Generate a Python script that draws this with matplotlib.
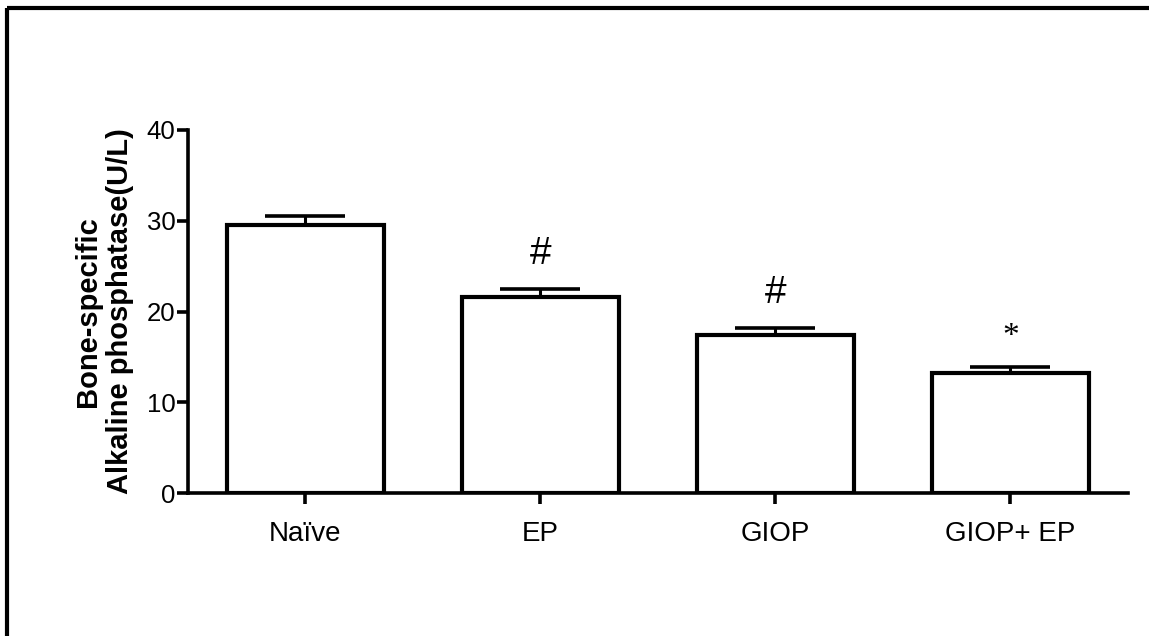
import matplotlib
matplotlib.use("Agg")
import matplotlib.pyplot as plt
from matplotlib.lines import Line2D

plt.rcParams['font.family'] = ['Liberation Sans', 'DejaVu Sans']

groups = ["Naïve", "EP", "GIOP", "GIOP+ EP"]
means = [29.5, 21.6, 17.4, 13.2]
sems = [1.0, 0.9, 0.8, 0.7]
marks = ["", "#", "#", "*"]
yticks = [0, 10, 20, 30, 40]

fig = plt.figure(figsize=(11.49, 6.36), dpi=100)
ax = fig.add_axes([0.1636, 0.2248, 0.818, 0.5708])

x = list(range(len(groups)))
ax.bar(x, means, width=0.668, color="white", edgecolor="black",
       linewidth=3.0, zorder=2)
ax.errorbar(x, means, yerr=[[0] * len(sems), sems], fmt="none",
            ecolor="black", elinewidth=2.2, capsize=29, capthick=2.6,
            zorder=1)

# significance marks above the error caps
mark_style = {
    "#": dict(fontsize=28, offset=25, family=["Liberation Sans", "DejaVu Sans"]),
    "*": dict(fontsize=24, offset=22, family=["Liberation Serif", "DejaVu Serif"]),
}
for xi, m, s, mk in zip(x, means, sems, marks):
    if not mk:
        continue
    st = mark_style[mk]
    ax.annotate(mk, (xi, m + s), xytext=(0, st["offset"]),
                textcoords="offset points", ha="center", va="center",
                fontsize=st["fontsize"], color="black", family=st["family"])

ax.set_xlim(-0.5, 3.5)
ax.set_ylim(0, 40)
ax.set_yticks(yticks)
ax.set_xticks(x)
ax.set_xticklabels(groups)

for side in ("top", "right"):
    ax.spines[side].set_visible(False)
for side in ("left", "bottom"):
    ax.spines[side].set_linewidth(2.6)
    ax.spines[side].set_color("black")

ax.tick_params(axis="y", direction="out", length=8, width=2.6,
               labelsize=18.5, pad=1, colors="black")
ax.tick_params(axis="x", direction="out", length=8, width=2.6,
               labelsize=20, pad=12, colors="black")

ax.set_ylabel("Bone-specific\nAlkaline phosphatase(U/L)", fontsize=21,
              fontweight="bold", linespacing=1.2, labelpad=9)

# outer frame lines (top and left edges)
fig.add_artist(Line2D([0.0065, 1.0], [0.9874, 0.9874], transform=fig.transFigure,
                      color="black", linewidth=3.0, solid_capstyle="butt"))
fig.add_artist(Line2D([0.0065, 0.0065], [0.0, 0.9874], transform=fig.transFigure,
                      color="black", linewidth=3.0, solid_capstyle="butt"))

fig.savefig("out.png", dpi=100, facecolor="white")
